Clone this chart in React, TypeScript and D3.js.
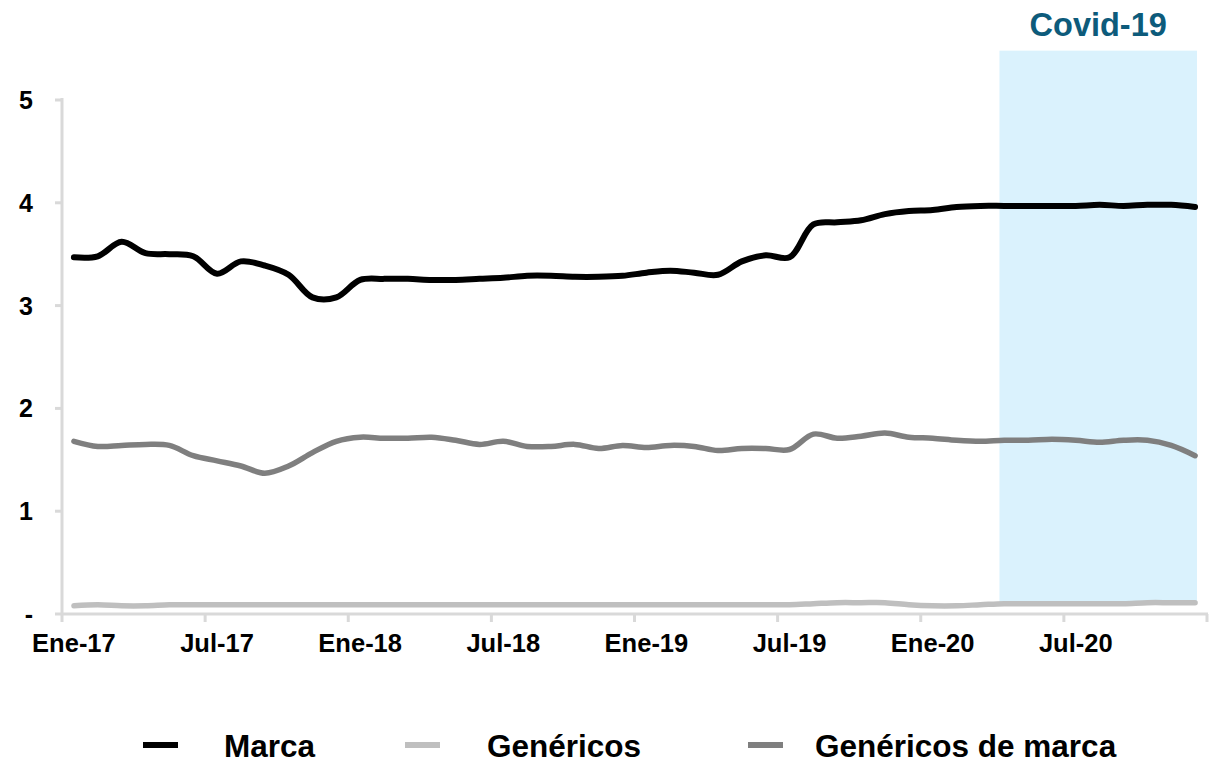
import React from "react";
import * as d3 from "d3";

const months: string[] = [];
const mesNames = ["Ene", "Feb", "Mar", "Abr", "May", "Jun", "Jul", "Ago", "Sep", "Oct", "Nov", "Dic"];
for (const yr of ["17", "18", "19", "20"]) for (const m of mesNames) months.push(`${m}-${yr}`);

const marca = [
  3.47, 3.48, 3.62, 3.51, 3.50, 3.48, 3.31, 3.43, 3.39, 3.30, 3.08, 3.08,
  3.25, 3.26, 3.26, 3.25, 3.25, 3.26, 3.27, 3.29, 3.29, 3.28, 3.28, 3.29,
  3.32, 3.34, 3.32, 3.30, 3.43, 3.49, 3.47, 3.79, 3.81, 3.83, 3.89, 3.92,
  3.93, 3.96, 3.97, 3.97, 3.97, 3.97, 3.97, 3.98, 3.97, 3.98, 3.98, 3.96,
];
const genericos = [
  0.08, 0.09, 0.08, 0.08, 0.09, 0.09, 0.09, 0.09, 0.09, 0.09, 0.09, 0.09,
  0.09, 0.09, 0.09, 0.09, 0.09, 0.09, 0.09, 0.09, 0.09, 0.09, 0.09, 0.09,
  0.09, 0.09, 0.09, 0.09, 0.09, 0.09, 0.09, 0.10, 0.11, 0.11, 0.11, 0.09,
  0.08, 0.08, 0.09, 0.10, 0.10, 0.10, 0.10, 0.10, 0.10, 0.11, 0.11, 0.11,
];
const genericosMarca = [
  1.68, 1.63, 1.64, 1.65, 1.64, 1.54, 1.49, 1.44, 1.37, 1.44, 1.57, 1.68,
  1.72, 1.71, 1.71, 1.72, 1.69, 1.65, 1.68, 1.63, 1.63, 1.65, 1.61, 1.64,
  1.62, 1.64, 1.63, 1.59, 1.61, 1.61, 1.60, 1.75, 1.71, 1.73, 1.76, 1.72,
  1.71, 1.69, 1.68, 1.69, 1.69, 1.70, 1.69, 1.67, 1.69, 1.69, 1.64, 1.54,
];
const yTicks = [0, 1, 2, 3, 4, 5];
const covidStart = "Abr-20";
const covidEnd = "Dic-20";
const covidRange = [0.1, 5.48];

const series = [
  { name: "Marca", values: marca, color: "#000000", width: 6 },
  { name: "Genéricos", values: genericos, color: "#BFBFBF", width: 5.5 },
  { name: "Genéricos de marca", values: genericosMarca, color: "#7F7F7F", width: 5.5 },
];

export default function App() {
  const W = 1209, H = 764;
  const x = d3.scaleBand<string>().domain(months).range([62, 1207]).padding(0);
  const bw = x.bandwidth();
  const cx = (m: string) => (x(m) as number) + bw / 2;
  const y = d3.scaleLinear().domain([0, 5]).range([614, 100]);
  const font = "'Liberation Sans', Arial, sans-serif";
  const axisColor = "#D9D9D9";

  const drawOrder = [series[1], series[2], series[0]];
  const legendPos = [
    { mx: 143, tx: 224 },
    { mx: 405, tx: 487 },
    { mx: 748, tx: 815 },
  ];

  const cxs = (x(covidStart) as number) + bw * 0.3;
  const cxe = (x(covidEnd) as number) + bw * 0.58;

  return (
    <svg width={W} height={H} style={{ position: "absolute", left: 0, top: 0, background: "#fff" }} fontFamily={font}>
      <rect
        x={cxs}
        y={y(covidRange[1])}
        width={cxe - cxs}
        height={y(covidRange[0]) - y(covidRange[1])}
        fill="#DAF2FD"
      />
      <text x={(cxs + cxe) / 2} y={36} textAnchor="middle" fontSize={32.5} fontWeight="bold" fill="#0D5B7B">
        Covid-19
      </text>
      {/* y axis */}
      <line x1={62} x2={62} y1={y(5) - 2} y2={y(0)} stroke={axisColor} strokeWidth={3} />
      {yTicks.map((t) => (
        <g key={t}>
          <line x1={55} x2={62} y1={y(t)} y2={y(t)} stroke={axisColor} strokeWidth={3} />
          <text x={33} y={y(t)} dy="0.36em" textAnchor="end" fontSize={25} fontWeight="bold" fill="#000">
            {t === 0 ? "-" : t}
          </text>
        </g>
      ))}
      {/* x axis */}
      <line x1={62} x2={1208} y1={y(0)} y2={y(0)} stroke={axisColor} strokeWidth={3} />
      {months.map((m, i) =>
        i % 6 === 0 ? (
          <g key={m}>
            <line x1={x(m) as number} x2={x(m) as number} y1={y(0)} y2={y(0) + 8} stroke={axisColor} strokeWidth={3} />
            <text x={cx(m)} y={652} textAnchor="middle" fontSize={25.5} fontWeight="bold" fill="#000">
              {m}
            </text>
          </g>
        ) : null
      )}
      <line x1={1207} x2={1207} y1={y(0)} y2={y(0) + 8} stroke={axisColor} strokeWidth={3} />
      {/* lines */}
      {drawOrder.map((s) => {
        const gen = d3
          .line<number>()
          .x((_, i) => cx(months[i]))
          .y((v) => y(v))
          .curve(d3.curveCatmullRom.alpha(0.5));
        return (
          <path key={s.name} d={gen(s.values) || ""} fill="none" stroke={s.color} strokeWidth={s.width} strokeLinecap="round" strokeLinejoin="round" />
        );
      })}
      {/* legend */}
      {series.map((s, i) => (
        <g key={s.name}>
          <rect x={legendPos[i].mx} y={742} width={35} height={6} fill={s.color} />
          <text x={legendPos[i].tx} y={757} fontSize={31.5} fontWeight="bold" fill="#000">
            {s.name}
          </text>
        </g>
      ))}
    </svg>
  );
}
